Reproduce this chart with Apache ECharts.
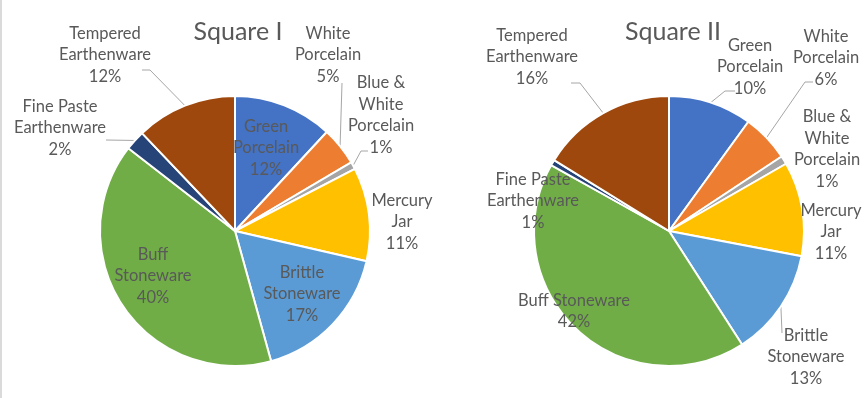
<!DOCTYPE html>
<html>
<head>
<meta charset="utf-8">
<script src="https://cdn.jsdelivr.net/npm/echarts@6/dist/echarts.min.js"></script>
<style>
html, body { margin: 0; padding: 0; background: #fff; }
#chart { width: 866px; height: 398px; }
</style>
</head>
<body>
<div id="chart"></div>
<script>
// data (percent of sherds per square)
var categories = ['Green Porcelain', 'White Porcelain', 'Blue & White Porcelain', 'Mercury Jar',
    'Brittle Stoneware', 'Buff Stoneware', 'Fine Paste Earthenware', 'Tempered Earthenware'];
var square1Values = [11.9, 4.6, 0.9, 11.2, 17.1, 39.8, 2.4, 12.1];
var square2Values = [10.0, 5.7, 1.0, 11.3, 12.9, 42.2, 0.7, 16.2];
var titles = ['Square I', 'Square II'];

var colors = ['#4472C4', '#ED7D31', '#A5A5A5', '#FFC000', '#5B9BD5', '#70AD47', '#264478', '#9E480E'];

// how each label is wrapped / placed (Excel put them by hand)
var wrap1 = ['Green\nPorcelain', 'White\nPorcelain', 'Blue &\nWhite\nPorcelain', 'Mercury\nJar',
    'Brittle\nStoneware', 'Buff\nStoneware', 'Fine Paste\nEarthenware', 'Tempered\nEarthenware'];
var wrap2 = ['Green\nPorcelain', 'White\nPorcelain', 'Blue &\nWhite\nPorcelain', 'Mercury\nJar',
    'Brittle\nStoneware', 'Buff Stoneware', 'Fine Paste\nEarthenware', 'Tempered\nEarthenware'];
var labelPos1 = [[266, 148], [328, 55], [381, 115], [402, 222], [302, 294], [153, 276], [60, 128], [105, 55]];
var labelPos2 = [[750, 67], [826, 58], [827, 149], [831, 232], [806, 357], [574, 311], [533, 201], [532, 57]];
// leader lines: [bend, end at label], null = no line
var leader1 = [null, [[342, 83], [342, 83]], [[361, 151], [368, 151]], null, null, null,
    [[106, 140], [106, 140]], [[150, 70], [142, 70]]];
var leader2 = [[[725, 91], [735, 91]], [[805, 82], [813, 82]], null, null, [[782, 333], [782, 333]], null,
    null, [[580, 83], [571, 83]]];

var labelPositions = [labelPos1, labelPos2];
var leaders = [leader1, leader2];

function buildData(values, leader) {
    var out = [];
    for (let i = 0; i < values.length; i++) {
        out.push({
            name: categories[i],
            value: values[i],
            itemStyle: { color: colors[i] },
            labelLine: { show: leader[i] != null }
        });
    }
    return out;
}

function pctFormatter(wrapArr) {
    return function (p) {
        return wrapArr[p.dataIndex] + '\n' + Math.round(p.percent) + '%';
    };
}

function makeSeries(idx, values, wrap, center) {
    return {
        type: 'pie',
        center: center,
        radius: 135,
        startAngle: 90,
        clockwise: true,
        avoidLabelOverlap: false,
        silent: true,
        animation: false,
        itemStyle: { borderColor: '#fff', borderWidth: 2 },
        label: {
            show: true,
            position: 'outside',
            formatter: pctFormatter(wrap),
            color: '#595959',
            fontFamily: 'Lato',
            fontSize: 16.5,
            lineHeight: 21.5,
            align: 'center'
        },
        labelLine: {
            show: true,
            length: 10,
            length2: 10,
            lineStyle: { color: '#A6A6A6', width: 1 }
        },
        labelLayout: function (params) {
            var pos = labelPositions[idx][params.dataIndex];
            var res = { x: pos[0], y: pos[1], align: 'center', verticalAlign: 'middle' };
            var ld = leaders[idx][params.dataIndex];
            if (ld && params.labelLinePoints) {
                res.labelLinePoints = [params.labelLinePoints[0], ld[0], ld[1]];
            }
            return res;
        },
        data: buildData(values, leaders[idx])
    };
}

var myChart = echarts.init(document.getElementById('chart'), null, { renderer: 'canvas' });
var option = {
    backgroundColor: '#fff',
    title: [
        { text: titles[0], left: 233, top: 14, textAlign: 'center',
          textStyle: { fontFamily: 'Lato', fontSize: 25, fontWeight: 'normal', color: '#595959' } },
        { text: titles[1], left: 668, top: 14, textAlign: 'center',
          textStyle: { fontFamily: 'Lato', fontSize: 25, fontWeight: 'normal', color: '#595959' } }
    ],
    graphic: [
        { type: 'rect', shape: { x: 0, y: 0, width: 2, height: 398 }, style: { fill: '#DADADA' } }
    ],
    series: [
        makeSeries(0, square1Values, wrap1, [235, 231]),
        makeSeries(1, square2Values, wrap2, [669, 231])
    ]
};
myChart.setOption(option);
</script>
</body>
</html>
